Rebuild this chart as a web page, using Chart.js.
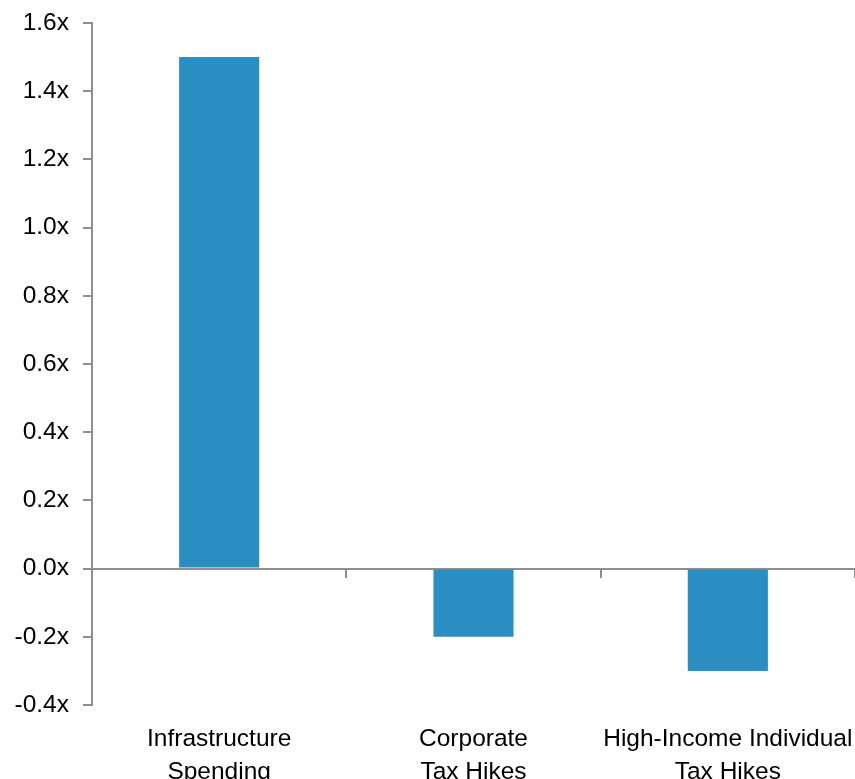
<!DOCTYPE html>
<html>
<head>
<meta charset="utf-8">
<script src="https://cdn.jsdelivr.net/npm/chart.js@4.4.1/dist/chart.umd.min.js"></script>
<style>
  html, body { margin: 0; padding: 0; background: #fff; }
  #wrap { width: 855px; height: 779px; position: relative; }
</style>
</head>
<body>
<div id="wrap"><canvas id="multiplierChart"></canvas></div>
<script>
// categories and multipliers
const categories = [
  ["Infrastructure", "Spending"],
  ["Corporate", "Tax Hikes"],
  ["High-Income Individual", "Tax Hikes"]
];
const multipliers = [1.5, -0.2, -0.3];
const yMin = -0.4;
const yMax = 1.6;
const yStep = 0.2;

const axisGray = "#8e8e8e";
const font = { family: "'Liberation Sans', Arial, sans-serif", size: 24.5 };

// keep axis label overhang from shrinking the plot
const noOverhang = (scale) => {
  scale.paddingLeft = 0;
  scale.paddingRight = 0;
  scale.paddingTop = 0;
  scale.paddingBottom = 0;
};

new Chart(document.getElementById("multiplierChart"), {
  type: "bar",
  data: {
    labels: categories,
    datasets: [
      {
        data: multipliers,
        backgroundColor: "#2b8ec3",
        borderWidth: 0,
        categoryPercentage: 1,
        barPercentage: 0.315,
      },
    ],
  },
  options: {
    responsive: true,
    maintainAspectRatio: false,
    animation: false,
    layout: { padding: { top: 23, right: 0, left: 0, bottom: 0 } },
    plugins: {
      legend: { display: false },
      tooltip: { enabled: false },
    },
    scales: {
      // axis line sitting on zero, with tick marks between categories
      x: {
        type: "category",
        position: { y: 0 },
        offset: true,
        grid: {
          display: true,
          offset: true,
          drawOnChartArea: false,
          drawTicks: true,
          tickLength: 8,
          color: axisGray,
          lineWidth: 2,
        },
        border: { display: true, color: axisGray, width: 2 },
        ticks: { display: false },
        afterFit: noOverhang,
      },
      // category labels along the bottom
      xLabels: {
        type: "category",
        position: "bottom",
        offset: true,
        grid: { display: false },
        border: { display: false },
        ticks: {
          color: "#000",
          font: { ...font, lineHeight: 1.37 },
          maxRotation: 0,
          autoSkip: false,
          padding: 9,
        },
        afterFit: (scale) => {
          noOverhang(scale);
          scale.height = 74;
        },
      },
      y: {
        min: yMin,
        max: yMax,
        grid: {
          drawOnChartArea: false,
          drawTicks: true,
          tickLength: 9,
          color: axisGray,
          lineWidth: 2,
        },
        border: { display: true, color: axisGray, width: 2 },
        ticks: {
          stepSize: yStep,
          color: "#000",
          font: font,
          padding: 14,
          callback: (v) => v.toFixed(1) + "x",
        },
        afterFit: (scale) => {
          noOverhang(scale);
          scale.width = 92;
        },
      },
    },
  },
});
</script>
</body>
</html>
